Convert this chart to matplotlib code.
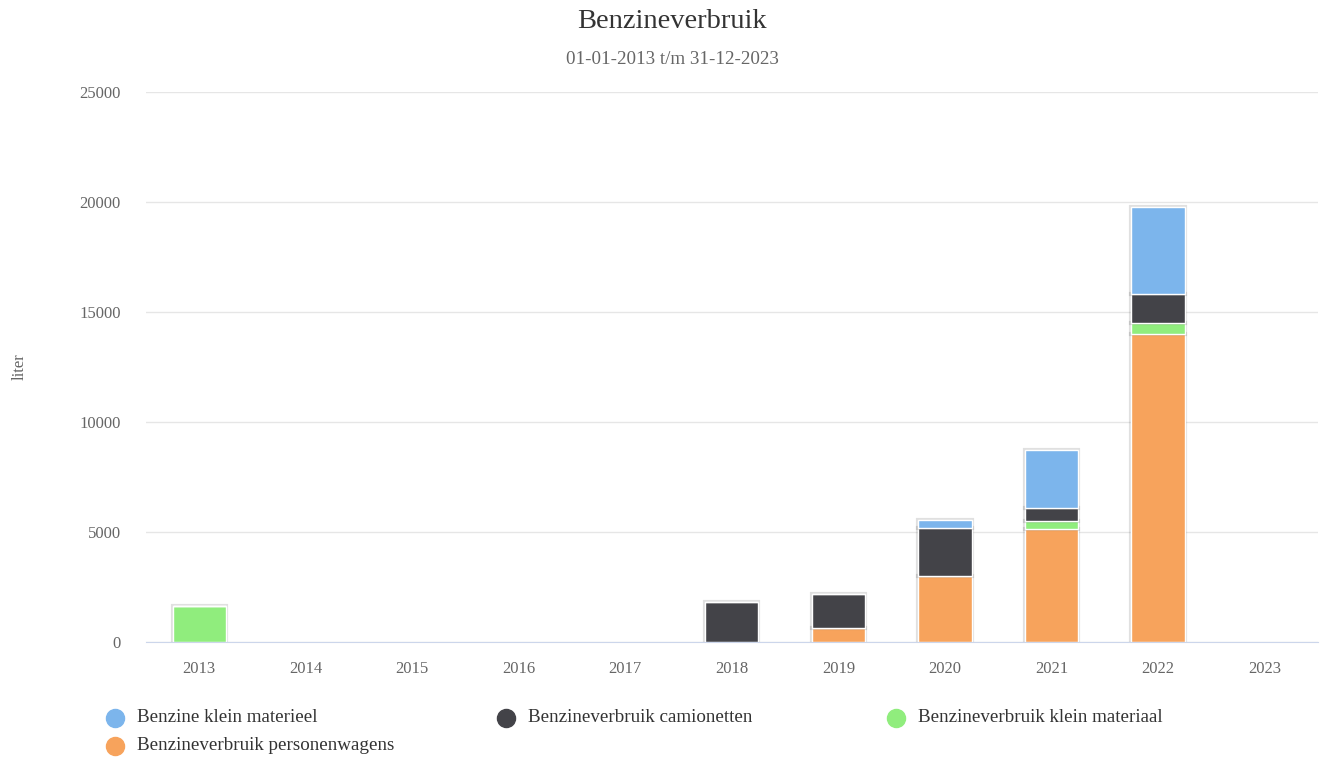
import matplotlib.pyplot as plt
import matplotlib.patheffects as pe
from matplotlib.lines import Line2D
import numpy as np

plt.rcParams['font.family'] = ['Liberation Serif', 'DejaVu Serif']

YEARS = ['2013', '2014', '2015', '2016', '2017', '2018', '2019', '2020', '2021', '2022', '2023']
# liters per year, per series
PERSONENWAGENS = [0, 0, 0, 0, 0, 0, 620, 3000, 5150, 14000, 0]
KLEIN_MATERIAAL = [1650, 0, 0, 0, 0, 0, 0, 0, 350, 480, 0]
CAMIONETTEN = [0, 0, 0, 0, 0, 1800, 1560, 2200, 580, 1330, 0]
KLEIN_MATERIEEL = [0, 0, 0, 0, 0, 0, 0, 330, 2650, 3940, 0]

SERIES = [
    ('Benzine klein materieel', KLEIN_MATERIEEL, '#7cb5ec'),
    ('Benzineverbruik camionetten', CAMIONETTEN, '#434348'),
    ('Benzineverbruik klein materiaal', KLEIN_MATERIAAL, '#90ed7d'),
    ('Benzineverbruik personenwagens', PERSONENWAGENS, '#f7a35c'),
]

fig = plt.figure(figsize=(13.21, 7.62), dpi=100)
ax = fig.add_axes([0.1105, 0.1575, 0.887, 0.7218])

x = np.arange(len(YEARS))
bottom = np.zeros(len(YEARS))
shadow = [pe.Stroke(linewidth=3, foreground='black', alpha=0.12), pe.Normal()]
# stack from the last series (bottom) up to the first (top), like Highcharts
for name, vals, color in reversed(SERIES):
    vals = np.array(vals, dtype=float)
    bars = ax.bar(x, vals, width=0.5, bottom=bottom, color=color,
                  edgecolor='white', linewidth=1, zorder=3)
    for b, v in zip(bars, vals):
        if v > 0:
            b.set_path_effects(shadow)
    bottom += vals

ax.set_xlim(-0.5, len(YEARS) - 0.5)
ax.set_ylim(0, 25000)
ax.set_yticks(range(0, 25001, 5000))
ax.set_xticks(x)
ax.set_xticklabels(YEARS)
ax.grid(axis='y', color='#e6e6e6', linewidth=1, zorder=0)
ax.tick_params(axis='both', length=0, labelsize=12, labelcolor='#666666')
ax.tick_params(axis='x', pad=14)
ax.tick_params(axis='y', pad=18)
for side in ['top', 'right', 'left']:
    ax.spines[side].set_visible(False)
ax.spines['bottom'].set_color('#ccd6eb')
ax.spines['bottom'].set_zorder(4)

fig.text(672 / 1321, 1 - 21 / 762, 'Benzineverbruik', ha='center', va='center',
         fontsize=20.5, color='#333333')
fig.text(672 / 1321, 1 - 60 / 762, '01-01-2013 t/m 31-12-2023', ha='center', va='center',
         fontsize=13.7, color='#666666')
fig.text(20 / 1321, 1 - 367 / 762, 'liter', rotation=90, ha='center', va='center',
         fontsize=12, color='#666666')

# legend laid out in three columns like the original
legend_pos = [(115, 718), (506, 718), (896, 718), (115, 746)]
for (name, vals, color), (px, py) in zip(SERIES, legend_pos):
    fx, fy = px / 1321, 1 - py / 762
    fig.add_artist(Line2D([fx], [fy], marker='o', markersize=13, color=color,
                          linestyle='none', transform=fig.transFigure))
    fig.text(fx + 22 / 1321, fy, name, ha='left', va='center',
             fontsize=13.7, color='#333333')

fig.savefig('out.png', dpi=100)
